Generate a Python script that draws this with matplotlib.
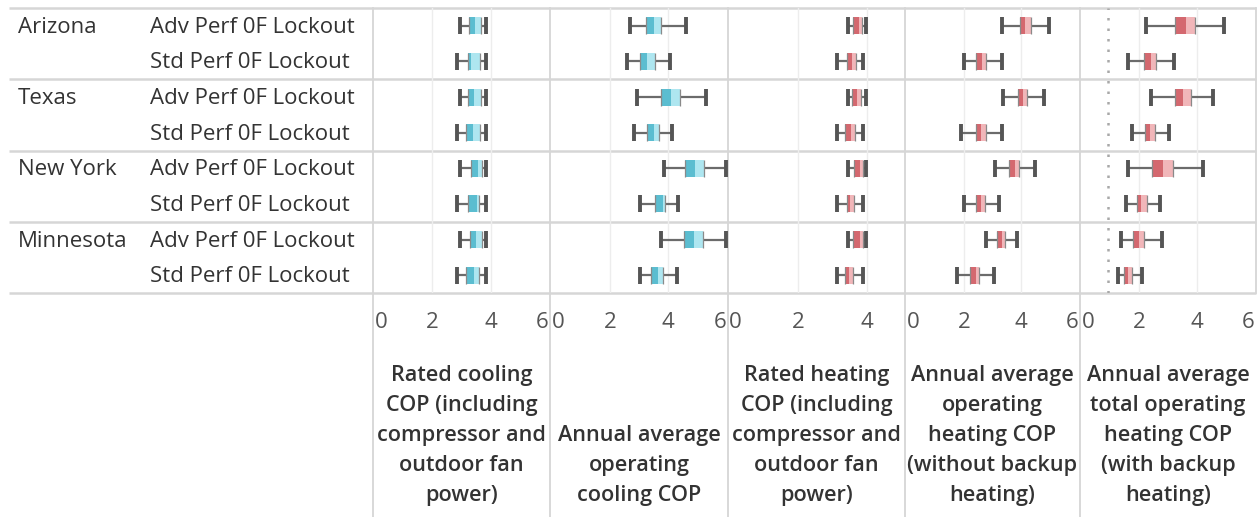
import matplotlib
matplotlib.use("Agg")
import matplotlib.pyplot as plt

plt.rcParams["font.family"] = ["Open Sans", "DejaVu Sans"]

# ---- data -------------------------------------------------------------
states = ["Arizona", "Texas", "New York", "Minnesota"]
configs = ["Adv Perf 0F Lockout", "Std Perf 0F Lockout"]

metric_titles = [
    "Rated cooling\nCOP (including\ncompressor and\noutdoor fan\npower)",
    "Annual average\noperating\ncooling COP",
    "Rated heating\nCOP (including\ncompressor and\noutdoor fan\npower)",
    "Annual average\noperating\nheating COP\n(without backup\nheating)",
    "Annual average\ntotal operating\nheating COP\n(with backup\nheating)",
]

# five-number summaries (whisker low, Q1, median, Q3, whisker high),
# rows: AZ adv, AZ std, TX adv, TX std, NY adv, NY std, MN adv, MN std
rated_cooling_cop = [
    (2.94, 3.25, 3.46, 3.67, 3.86),
    (2.85, 3.23, 3.34, 3.63, 3.86),
    (2.94, 3.24, 3.44, 3.67, 3.86),
    (2.85, 3.17, 3.40, 3.63, 3.86),
    (2.94, 3.32, 3.57, 3.69, 3.86),
    (2.85, 3.23, 3.52, 3.61, 3.86),
    (2.94, 3.29, 3.49, 3.71, 3.85),
    (2.85, 3.17, 3.44, 3.61, 3.86),
]
annual_cooling_cop = [
    (2.69, 3.23, 3.52, 3.77, 4.61),
    (2.60, 3.03, 3.29, 3.54, 4.07),
    (2.92, 3.77, 4.09, 4.41, 5.30),
    (2.83, 3.27, 3.52, 3.67, 4.14),
    (3.84, 4.59, 4.92, 5.22, 5.99),
    (3.02, 3.54, 3.83, 3.89, 4.32),
    (3.75, 4.55, 4.88, 5.19, 5.97),
    (3.02, 3.40, 3.66, 3.81, 4.29),
]
rated_heating_cop = [
    (3.44, 3.59, 3.76, 3.84, 3.95),
    (3.13, 3.42, 3.56, 3.68, 3.89),
    (3.44, 3.57, 3.71, 3.82, 3.95),
    (3.13, 3.36, 3.52, 3.65, 3.89),
    (3.44, 3.61, 3.80, 3.87, 3.95),
    (3.13, 3.41, 3.49, 3.61, 3.87),
    (3.44, 3.60, 3.78, 3.87, 3.95),
    (3.13, 3.36, 3.46, 3.60, 3.87),
]
annual_heating_cop = [
    (3.34, 3.95, 4.15, 4.34, 4.98),
    (2.00, 2.42, 2.63, 2.79, 3.34),
    (3.37, 3.88, 4.06, 4.21, 4.80),
    (1.91, 2.42, 2.60, 2.79, 3.34),
    (3.09, 3.57, 3.78, 3.94, 4.49),
    (2.00, 2.42, 2.60, 2.74, 3.23),
    (2.77, 3.17, 3.32, 3.43, 3.86),
    (1.77, 2.22, 2.42, 2.54, 3.06),
]
annual_total_heating_cop = [
    (2.24, 3.24, 3.62, 3.93, 4.93),
    (1.60, 2.18, 2.40, 2.59, 3.22),
    (2.41, 3.24, 3.53, 3.78, 4.56),
    (1.75, 2.22, 2.36, 2.55, 3.03),
    (1.61, 2.46, 2.84, 3.18, 4.22),
    (1.55, 1.94, 2.07, 2.27, 2.72),
    (1.37, 1.78, 1.98, 2.18, 2.78),
    (1.27, 1.49, 1.63, 1.75, 2.09),
]
total_heating_ref_line = 0.93

metric_data = [rated_cooling_cop, annual_cooling_cop, rated_heating_cop,
               annual_heating_cop, annual_total_heating_cop]
metric_ticks = [[0, 2, 4, 6], [0, 2, 4, 6], [0, 2, 4], [0, 2, 4, 6], [0, 2, 4, 6]]
metric_xlim = [(-0.05, 6.05), (-0.05, 6.05), (-0.02, 5.09), (-0.05, 6.05), (-0.05, 6.05)]

# ---- styling ----------------------------------------------------------
W, H = 1258, 517
TEAL_DARK, TEAL_LIGHT = "#5bbdd0", "#aee6f0"
RED_DARK, RED_LIGHT = "#d4686f", "#f1b6b9"
metric_colors = [(TEAL_DARK, TEAL_LIGHT), (TEAL_DARK, TEAL_LIGHT),
                 (RED_DARK, RED_LIGHT), (RED_DARK, RED_LIGHT), (RED_DARK, RED_LIGHT)]
SEP = "#d6d6d6"
GRID = "#ededed"
TEXT = "#333333"
LABEL_FS = 16

col_edges = [373, 550, 728, 905, 1080, 1256]
top_px, bottom_px = 8, 293
n_rows = len(states) * len(configs)
row_h = (bottom_px - top_px) / n_rows

fig = plt.figure(figsize=(W / 100, H / 100), dpi=100)

# frame: separators and header texts in pixel space
bg = fig.add_axes([0, 0, 1, 1])
bg.set_xlim(0, W)
bg.set_ylim(H, 0)
bg.axis("off")

for k in range(len(states) + 1):
    y = top_px + k * len(configs) * row_h
    bg.plot([9, col_edges[-1]], [y, y], color=SEP, lw=1.8, solid_capstyle="butt")
for x in col_edges[:-1]:
    bg.plot([x, x], [top_px, H], color=SEP, lw=1.3)
bg.plot([col_edges[-1], col_edges[-1]], [top_px, bottom_px], color=SEP, lw=1.3)

for si, state in enumerate(states):
    for ci, cfg in enumerate(configs):
        r = si * len(configs) + ci
        yc = top_px + (r + 0.5) * row_h + 1.5
        if ci == 0:
            bg.text(18, yc, state, ha="left", va="center", fontsize=LABEL_FS, color=TEXT)
        bg.text(150, yc, cfg, ha="left", va="center", fontsize=LABEL_FS, color=TEXT)

for mi, title in enumerate(metric_titles):
    xc = (col_edges[mi] + col_edges[mi + 1]) / 2
    bg.text(xc, 506, title, ha="center", va="bottom", fontsize=15.6,
            fontweight="semibold", color=TEXT, linespacing=1.56)

# ---- box plot panels --------------------------------------------------
box_h = 0.48
for mi, rows in enumerate(metric_data):
    x0, x1 = col_edges[mi], col_edges[mi + 1]
    ax = fig.add_axes([x0 / W, 1 - bottom_px / H, (x1 - x0) / W, (bottom_px - top_px) / H])
    ax.patch.set_alpha(0)
    ax.set_xlim(*metric_xlim[mi])
    ax.set_ylim(n_rows - 0.5, -0.5)
    for s in ax.spines.values():
        s.set_visible(False)
    ax.set_yticks([])
    ax.set_xticks(metric_ticks[mi])
    ax.tick_params(axis="x", length=0, pad=14, labelsize=LABEL_FS, labelcolor="#555555")
    labels = ax.get_xticklabels()
    labels[0].set_ha("left")
    if metric_ticks[mi][-1] == 6:
        labels[-1].set_ha("right")
    for t in metric_ticks[mi][1:]:
        if t < metric_xlim[mi][1] - 0.1:
            ax.axvline(t, color=GRID, lw=1, zorder=0)

    dark, light = metric_colors[mi]
    for r, (lo, q1, med, q3, hi) in enumerate(rows):
        ax.hlines(r, lo, q1, color="#6b6b6b", lw=1.6, zorder=2)
        ax.hlines(r, q3, hi, color="#6b6b6b", lw=1.6, zorder=2)
        ax.vlines([lo, hi], r - box_h / 2, r + box_h / 2, color="#555555", lw=2.8, zorder=3)
        ax.barh(r, med - q1, left=q1, height=box_h, color=dark, lw=0, zorder=3)
        ax.barh(r, q3 - med, left=med, height=box_h, color=light, lw=0, zorder=3)
        ax.vlines([q1, q3], r - box_h / 2, r + box_h / 2, color="#8a8a8a", lw=0.9, zorder=4)

    if mi == len(metric_data) - 1:
        ax.axvline(total_heating_ref_line, color="#a8a8a8", lw=1.8,
                   linestyle=(0, (1, 3.2)), zorder=1)

fig.savefig("out.png", dpi=100)
